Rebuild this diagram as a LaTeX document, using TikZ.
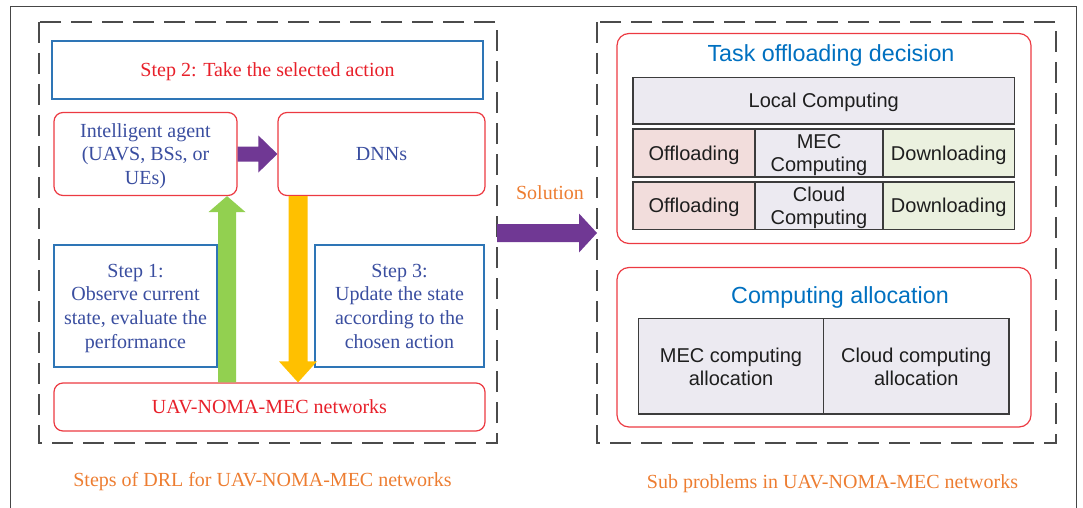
\documentclass[tikz,border=0pt]{standalone}
\usepackage{fontspec}
\setmainfont{Liberation Serif}
\setsansfont{Liberation Sans}
\usetikzlibrary{calc}

\definecolor{framegray}{RGB}{70,70,70}
\definecolor{dashgray}{RGB}{75,75,75}
\definecolor{boxred}{RGB}{236,58,66}
\definecolor{txtred}{RGB}{232,32,42}
\definecolor{boxblue}{RGB}{46,117,182}
\definecolor{txtblue}{RGB}{58,78,160}
\definecolor{titleblue}{RGB}{0,112,192}
\definecolor{capor}{RGB}{237,125,49}
\definecolor{arrpurple}{RGB}{112,56,148}
\definecolor{arrgreen}{RGB}{146,208,80}
\definecolor{arryellow}{RGB}{255,192,0}
\definecolor{celledge}{RGB}{60,60,60}
\definecolor{celllav}{RGB}{236,234,241}
\definecolor{cellpink}{RGB}{242,221,220}
\definecolor{cellgreen}{RGB}{235,241,223}
\definecolor{celltext}{RGB}{30,30,30}

% block arrow from #2 to #3: shaft half width #4, head half width #5, head length #6
\newcommand\blockarrow[6]{%
  \path ($(#3)!#6!(#2)$) coordinate (ba-h);
  \fill[#1] ($(#2)!#4!90:(#3)$) -- ($(ba-h)!#4!90:(#3)$) -- ($(ba-h)!#5!90:(#3)$)
    -- (#3) -- ($(ba-h)!#5!-90:(#3)$) -- ($(ba-h)!#4!-90:(#3)$)
    -- ($(#2)!#4!-90:(#3)$) -- cycle;}

\tikzset{
  serif20/.style={font=\fontsize{20}{23.7}\selectfont, text depth=0pt},
  sans20/.style={font=\sffamily\fontsize{20}{23}\selectfont, text depth=0pt},
  sanstitle/.style={font=\sffamily\fontsize{23.3}{27}\selectfont, text=titleblue, text depth=0pt},
  redbox/.style={draw=boxred, line width=1.2pt, rounded corners=9pt, fill=white,
    inner sep=0pt, align=center, serif20, text=txtblue},
  bluebox/.style={draw=boxblue, line width=1.2pt, fill=white, inner sep=0pt,
    align=center, serif20, text=txtblue},
  bigred/.style={draw=boxred, line width=1.2pt, rounded corners=12pt},
  cell/.style={draw=celledge, line width=1.3pt, inner sep=0pt, align=center,
    sans20, text=celltext},
  groupframe/.style={draw=dashgray, line width=1.5pt, dash pattern=on 21pt off 10pt},
  caption/.style={serif20, text=capor},
}

\begin{document}
\begin{tikzpicture}[x=1pt, y=-1pt]
\useasboundingbox (0,0) rectangle (1083,508);

% outer frame (open at the bottom)
\draw[framegray, line width=1pt] (10.5,508) -- (10.5,6.5) -- (1076,6.5) -- (1076,508);

% ---------------- left group: DRL steps ----------------
\draw[groupframe] (39,22) rectangle (497,443);
\node[bluebox, minimum width=431pt, minimum height=58pt, text=txtred] (step2) at (267.5,70) {Step 2: Take the selected action};
\node[redbox, minimum width=183pt, minimum height=83pt] (agent) at (145.5,154) {Intelligent agent\\(UAVS, BSs, or\\UEs)};
\node[redbox, minimum width=207pt, minimum height=83pt] (dnn) at (381.5,154) {DNNs};
\node[bluebox, minimum width=163pt, minimum height=122pt] (step1) at (135.5,306) {Step 1:\\Observe current\\state, evaluate the\\performance};
\node[bluebox, minimum width=169pt, minimum height=122pt] (step3) at (399.5,306) {Step 3:\\Update the state\\according to the\\chosen action};
\node[redbox, minimum width=431pt, minimum height=48pt, text=txtred] (uav) at (269.5,407) {UAV-NOMA-MEC networks};
\node[caption] (capl) at (262.5,479) {Steps of DRL for UAV-NOMA-MEC networks};

% arrows of the DRL loop
\blockarrow{arrpurple}{agent.east}{dnn.west}{7.5pt}{18.5pt}{19pt}
\coordinate (gfoot) at (uav.north -| 227,0);
\coordinate (gtip) at (agent.south -| 227,0);
\blockarrow{arrgreen}{gfoot}{gtip}{9pt}{18.5pt}{16pt}
\coordinate (yfoot) at (dnn.south -| 298,0);
\coordinate (ytip) at (uav.north -| 298,0);
\blockarrow{arryellow}{yfoot}{ytip}{9.5pt}{19pt}{21pt}

% ---------------- right group: sub problems ----------------
\draw[groupframe] (597,22) rectangle (1056,443);
\coordinate (lgrp) at (497,233);
\coordinate (rgrp) at (597,233);
\blockarrow{arrpurple}{lgrp}{rgrp}{9pt}{19.5pt}{18pt}
\node[caption] (sol) at (550,193) {Solution};

% task offloading decision
\draw[bigred] (617,33.5) rectangle (1031,243.5);
\node[sanstitle] (t1) at (831,53) {Task offloading decision};
\node[cell, fill=celllav, minimum width=381.5pt, minimum height=46.5pt] (local) at (823.75,100.75) {Local Computing};
\node[cell, fill=cellpink, minimum width=122pt, minimum height=48pt] (off1) at (694,153) {Offloading};
\node[cell, fill=celllav, minimum width=128pt, minimum height=48pt] (mec) at (819,153) {MEC\\Computing};
\node[cell, fill=cellgreen, minimum width=131.5pt, minimum height=48pt] (down1) at (948.75,153) {Downloading};
\node[cell, fill=cellpink, minimum width=122pt, minimum height=47.5pt] (off2) at (694,205.75) {Offloading};
\node[cell, fill=celllav, minimum width=128pt, minimum height=47.5pt] (cloud) at (819,205.75) {Cloud\\Computing};
\node[cell, fill=cellgreen, minimum width=131.5pt, minimum height=47.5pt] (down2) at (948.75,205.75) {Downloading};

% computing allocation
\draw[bigred] (617,267.5) rectangle (1031,427);
\node[sanstitle] (t2) at (840,295) {Computing allocation};
\node[cell, fill=celllav, minimum width=185pt, minimum height=95.5pt] (mecalloc) at (731,366.25) {MEC computing\\allocation};
\node[cell, fill=celllav, minimum width=185.5pt, minimum height=95.5pt] (cloudalloc) at (916.25,366.25) {Cloud computing\\allocation};
\node[caption] (capr) at (832.5,482) {Sub problems in UAV-NOMA-MEC networks};
\end{tikzpicture}
\end{document}
